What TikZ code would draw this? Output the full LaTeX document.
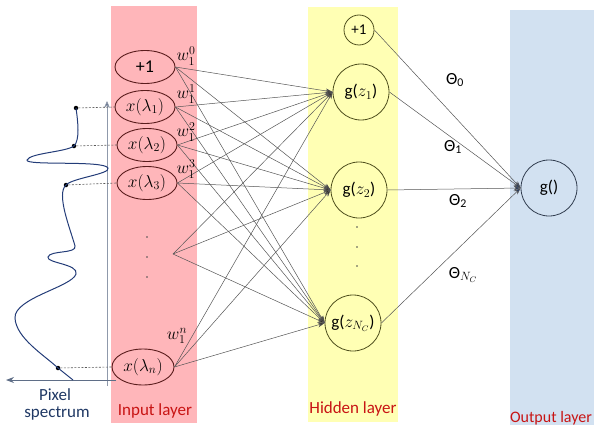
\documentclass[tikz,border=0pt]{standalone}
\usepackage{fontspec}
\setmainfont{Carlito}
\usetikzlibrary{shapes.geometric,arrows.meta}
\definecolor{bandred}{RGB}{255,182,186}
\definecolor{bandyellow}{RGB}{255,255,180}
\definecolor{bandblue}{RGB}{210,225,241}
\definecolor{inborder}{RGB}{90,28,28}
\definecolor{hidborder}{RGB}{80,80,30}
\definecolor{outborder}{RGB}{50,62,80}
\definecolor{curveblue}{RGB}{35,60,120}
\definecolor{axisgray}{RGB}{95,110,135}
\definecolor{labred}{RGB}{200,20,20}
\definecolor{labblue}{RGB}{31,56,100}
\definecolor{edgegray}{RGB}{85,85,85}
\begin{document}
\begin{tikzpicture}[x=1pt,y=-1pt,
  innode/.style={ellipse,draw=inborder,line width=0.9pt,minimum width=60pt,minimum height=33pt,inner sep=0pt,font=\fontsize{18}{20}\selectfont},
  hidnode/.style={circle,draw=hidborder,line width=0.8pt,minimum size=56pt,inner sep=0pt,font=\fontsize{17}{19}\selectfont},
  outnode/.style={circle,draw=outborder,line width=0.8pt,minimum size=56pt,inner sep=0pt,font=\fontsize{17}{19}\selectfont},
  sdot/.style={circle,fill=black,minimum size=4.5pt,inner sep=0pt},
  tdot/.style={circle,fill=black!70,minimum size=1.8pt,inner sep=0pt},
  conn/.style={draw=edgegray,line width=0.5pt},
  hidarrow/.style={conn,-{Stealth[length=7pt,width=5pt,fill=black!85!olive]}},
  outarrow/.style={conn,-{Stealth[length=7pt,width=5pt,fill=labblue]}},
  dashconn/.style={draw=black!65,line width=0.6pt,dash pattern=on 2pt off 1.5pt},
  wlab/.style={font=\fontsize{18}{20}\selectfont,inner sep=0pt},
  thlab/.style={font=\fontsize{17}{19}\selectfont,inner sep=0pt},
  laylab/.style={font=\fontsize{17}{19}\selectfont,text=labred,inner sep=0pt},
  pixlab/.style={font=\fontsize{17}{19}\selectfont,text=labblue,inner sep=0pt}
]
\useasboundingbox (0,0) rectangle (601,433);
% bands
\fill[bandred] (111,6) rectangle (197,423);
\fill[bandyellow] (308,7) rectangle (398,422);
\fill[bandblue] (510,10) rectangle (594,425);

% input nodes
\node[innode] (in0) at (145,67) {+1};
\node[innode] (in1) at (145,107) {$x(\lambda_1)$};
\node[innode] (in2) at (147,145) {$x(\lambda_2)$};
\node[innode] (in3) at (147,183) {$x(\lambda_3)$};
\node[innode,minimum width=62pt,minimum height=36pt] (inn) at (143,367) {$x(\lambda_n)$};
\coordinate (indots) at (173,254);
\node[tdot] (id1) at (147,237) {};
\node[tdot] (id2) at (147,257) {};
\node[tdot] (id3) at (147,277) {};

% hidden nodes
\node[hidnode,minimum size=30pt,font=\fontsize{15}{17}\selectfont] (hid0) at (359,30) {+1};
\node[hidnode] (hid1) at (361,92) {g($z_1$)};
\node[hidnode] (hid2) at (359,190) {g($z_2$)};
\node[hidnode] (hidN) at (353,323) {g($z_{N_C}$)};
\node[tdot] (hd1) at (357,227) {};
\node[tdot] (hd2) at (357,247) {};
\node[tdot] (hd3) at (357,266) {};

% output node
\node[outnode] (out) at (549,188) {g()};

% input -> hidden
\foreach \s in {in0,in1,in2,in3,inn}{
  \foreach \t in {hid1,hid2,hidN}{
    \draw[hidarrow] (\s.east) -- (\t.west);
  }
}
\foreach \t in {hid1,hid2,hidN}{
  \draw[hidarrow] (indots) -- (\t.west);
}
% hidden -> output
\foreach \s in {hid0,hid1,hid2,hidN}{
  \draw[outarrow] (\s.east) -- (out.west);
}

% weight labels
\node[wlab] (w0) at (186,56) {$w_1^0$};
\node[wlab] (w1) at (186,94) {$w_1^1$};
\node[wlab] (w2) at (186,132) {$w_1^2$};
\node[wlab] (w3) at (186,169) {$w_1^3$};
\node[wlab] (wn) at (177,336) {$w_1^n$};

% theta labels
\node[thlab] (t0) at (455,80) {Θ\textsubscript{0}};
\node[thlab] (t1) at (453,147) {Θ\textsubscript{1}};
\node[thlab] (t2) at (458,201) {Θ\textsubscript{2}};
\node[thlab] (tN) at (463,275) {Θ$_{N_C}$};

% spectrum
\coordinate (vbot) at (107,386);
\coordinate (vtop) at (107,101);
\coordinate (hr) at (116,380);
\coordinate (hl) at (6,380);
\draw[draw=axisgray!70,line width=0.7pt,-{Stealth[length=7pt,width=6pt,fill=axisgray]}] (vbot) -- (vtop);
\draw[draw=axisgray,line width=0.8pt,-{Stealth[length=8pt,width=6pt,fill=axisgray]}] (hr) -- (hl);

\node[sdot] (p1) at (76,108) {};
\node[sdot] (p2) at (74,146) {};
\node[sdot] (p3) at (66,185) {};
\node[sdot] (p4) at (58,368) {};

\draw[curveblue,line width=1pt]
  (76,108) .. controls (78,122) and (80,140) .. (74,146)
  .. controls (66,152) and (30,153) .. (27,160)
  .. controls (25,166) and (104,160) .. (108,168)
  .. controls (111,174) and (72,178) .. (66,185)
  .. controls (56,194) and (70,228) .. (75,246)
  .. controls (77,254) and (50,250) .. (48,257)
  .. controls (46,263) and (79,264) .. (76,274)
  .. controls (72,287) and (14,298) .. (15,318)
  .. controls (16,338) and (44,355) .. (58,368)
  -- (73,380);

\draw[dashconn] (p1) -- (in1.west);
\draw[dashconn] (p2) -- (in2.west);
\draw[dashconn] (p3) -- (in3.west);
\draw[dashconn] (p4) -- (inn.west);

% labels
\node[pixlab] (pix1) at (55,395) {Pixel};
\node[pixlab] (pix2) at (57,413) {spectrum};
\node[laylab] (lin) at (155,411) {Input layer};
\node[laylab] (lhid) at (353,409) {Hidden layer};
\node[laylab,font=\fontsize{16}{18}\selectfont] (lout) at (551,418) {Output layer};
\end{tikzpicture}
\end{document}
